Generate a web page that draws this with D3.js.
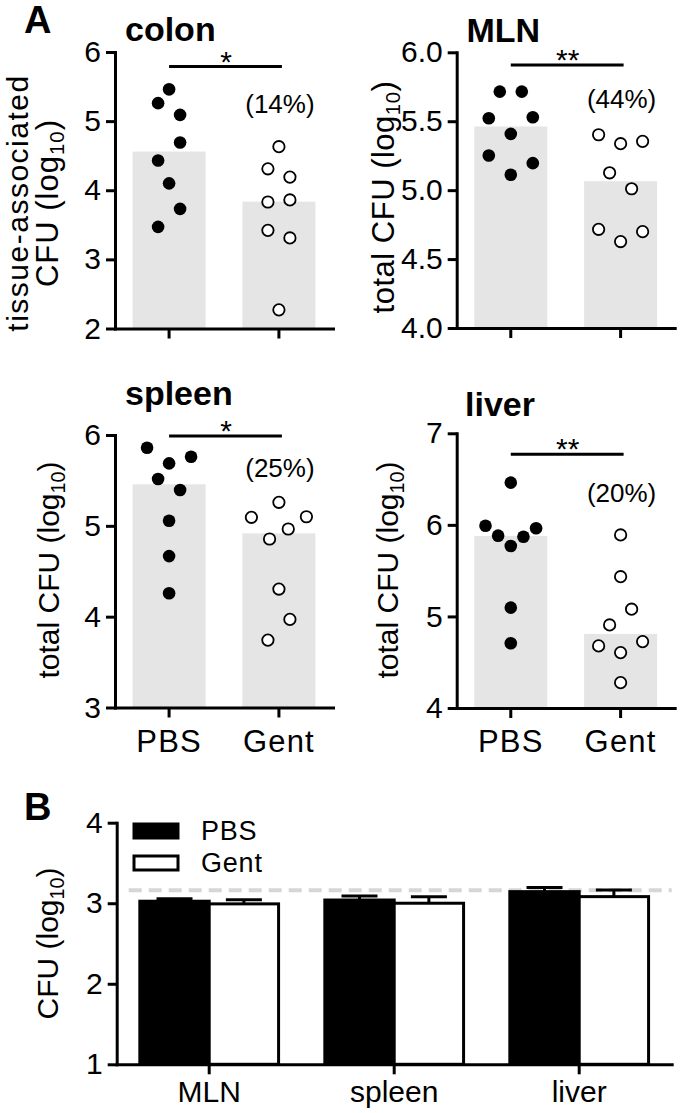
<!DOCTYPE html>
<html>
<head>
<meta charset="utf-8">
<script src="https://cdn.jsdelivr.net/npm/d3@7"></script>
<style>
  html, body { margin: 0; padding: 0; background: #fff; }
  svg text { font-family: "Liberation Sans", Arial, Helvetica, sans-serif; fill: #000; }
</style>
</head>
<body>
<svg id="chart" width="680" height="1113"></svg>
<script>
// ---------------- DATA ----------------
const groups = ["PBS", "Gent"];

// colon (tissue-associated CFU, log10)
const colonPBS  = [5.46, 5.26, 5.09, 4.69, 4.43, 4.10, 3.73, 3.47];
const colonGent = [4.63, 4.31, 4.19, 3.86, 3.83, 3.42, 3.31, 2.27];
const colonBars = [4.56, 3.835];
const colonPBSSlot  = [0, -1, 1, 1, -1, 0, 1, -1];
const colonGentSlot = [0, -1, 1, 1, -1, -1, 1, 0];

// MLN (total CFU, log10)
const mlnPBS  = [5.715, 5.715, 5.522, 5.529, 5.408, 5.251, 5.196, 5.112];
const mlnGent = [5.402, 5.337, 5.354, 5.126, 5.010, 4.716, 4.627, 4.699];
const mlnBars = [5.462, 5.065];
const mlnPBSSlot  = [-1, 1, -2, 2, 0, -2, 2, 0];
const mlnGentSlot = [-2, 0, 2, -1, 1, -2, 0, 2];

// spleen (total CFU, log10)
const spleenPBS  = [5.860, 5.688, 5.761, 5.515, 5.394, 5.056, 4.667, 4.257];
const spleenGent = [5.259, 5.094, 5.100, 4.965, 4.855, 4.304, 3.970, 3.742];
const spleenBars = [5.457, 4.917];
const spleenPBSSlot  = [-2, 0, 2, -1, 1, 0, 0, 0];
const spleenGentSlot = [0, -2.5, 2.5, 0.85, -0.85, 0, 1, -1];

// liver (total CFU, log10)
const liverPBS  = [6.461, 5.991, 5.882, 5.770, 5.871, 5.963, 5.096, 4.707];
const liverGent = [5.890, 5.434, 5.079, 4.907, 4.725, 4.678, 4.605, 4.277];
const liverBars = [5.879, 4.809];
const liverPBSSlot  = [0, -2.3, -1.15, 0, 1.15, 2.3, 0, 0];
const liverGentSlot = [0, 0, 1, -1, 2, -2, 0, 0];

const percentLabels = ["(14%)", "(44%)", "(25%)", "(20%)"];
const starLabels = ["*", "**", "*", "**"];
const panelTitles = ["colon", "MLN", "spleen", "liver"];
const colonTicks = [2, 3, 4, 5, 6];
const mlnTicks = [4.0, 4.5, 5.0, 5.5, 6.0];
const spleenTicks = [3, 4, 5, 6];
const liverTicks = [4, 5, 6, 7];

// Panel B
const bCategories = ["MLN", "spleen", "liver"];
const bPBSMean = [3.025, 3.04, 3.144];
const bPBSErr  = [0.032, 0.05, 0.05];
const bGentMean = [2.992, 3.0, 3.082];
const bGentErr  = [0.05, 0.082, 0.083];
const bTicks = [1, 2, 3, 4];
const detectionLimit = 3.16;

// ---------------- DRAW ----------------
const svg = d3.select("#chart");
const FONT_TICK = 30, FONT_LABEL = 30;

function styleAxis(g) {
  g.selectAll("path.domain").attr("stroke", "#000").attr("stroke-width", 3).attr("stroke-linecap", "square");
  g.selectAll(".tick line").attr("stroke", "#000").attr("stroke-width", 3);
  g.selectAll(".tick text").attr("font-size", FONT_TICK).attr("fill", "#000");
}

const panels = [
  { title: panelTitles[0], pbs: colonPBS, gent: colonGent, bars: colonBars, pbsSlot: colonPBSSlot, gentSlot: colonGentSlot,
    ticks: colonTicks, fmt: d3.format("d"), x0: 115, yTop: 52, yBot: 328.5,
    ylabel: [["tissue-associated", null], ["CFU (log", "10", ")"]], ylabX: [28, 58], ylabY: 203,
    ylabFont: [30, 31], ylabSpacing: [1.5, 1],
    titleX: 125, titleY: 41, pct: percentLabels[0], pctY: 113, star: starLabels[0], sigY: 66.5, xlabels: false },
  { title: panelTitles[1], pbs: mlnPBS, gent: mlnGent, bars: mlnBars, pbsSlot: mlnPBSSlot, gentSlot: mlnGentSlot,
    ticks: mlnTicks, fmt: d3.format(".1f"), x0: 456.7, yTop: 52.3, yBot: 328,
    ylabel: [["total CFU (log", "10", ")"]], ylabX: [394], ylabY: 197, ylabFont: [31], ylabSpacing: [0.5],
    titleX: 466.5, titleY: 42, pct: percentLabels[1], pctY: 108, star: starLabels[1], sigY: 65, xlabels: false },
  { title: panelTitles[2], pbs: spleenPBS, gent: spleenGent, bars: spleenBars, pbsSlot: spleenPBSSlot, gentSlot: spleenGentSlot,
    ticks: spleenTicks, fmt: d3.format("d"), x0: 115, yTop: 435, yBot: 707.5,
    ylabel: [["total CFU (log", "10", ")"]], ylabX: [59], ylabY: 570, ylabFont: [30], ylabSpacing: [0],
    titleX: 125, titleY: 405, pct: percentLabels[2], pctY: 477, star: starLabels[2], sigY: 436, xlabels: true },
  { title: panelTitles[3], pbs: liverPBS, gent: liverGent, bars: liverBars, pbsSlot: liverPBSSlot, gentSlot: liverGentSlot,
    ticks: liverTicks, fmt: d3.format("d"), x0: 456.7, yTop: 433.3, yBot: 708,
    ylabel: [["total CFU (log", "10", ")"]], ylabX: [398], ylabY: 570, ylabFont: [30], ylabSpacing: [0],
    titleX: 465, titleY: 416, pct: percentLabels[3], pctY: 502, star: starLabels[3], sigY: 454.3, xlabels: true }
];

const SLOT = 11;

panels.forEach(p => {
  const g = svg.append("g");
  const x = d3.scaleBand().domain(groups).range([p.x0, p.x0 + 218]).paddingInner(0.335).paddingOuter(0.16);
  const y = d3.scaleLinear().domain([p.ticks[0], p.ticks[p.ticks.length - 1]]).range([p.yBot, p.yTop]);

  // bars
  g.selectAll("rect.bar").data(groups).join("rect")
    .attr("x", d => x(d)).attr("width", x.bandwidth())
    .attr("y", (d, i) => y(p.bars[i])).attr("height", (d, i) => p.yBot - y(p.bars[i]))
    .attr("fill", "#e5e5e5");

  // axes
  const ya = g.append("g").attr("transform", `translate(${p.x0},0)`)
    .call(d3.axisLeft(y).tickValues(p.ticks).tickFormat(p.fmt).tickSize(9).tickSizeOuter(0).tickPadding(5));
  styleAxis(ya);
  const xa = g.append("g").attr("transform", `translate(0,${p.yBot})`)
    .call(d3.axisBottom(x).tickSize(10).tickSizeOuter(0));
  styleAxis(xa);
  xa.selectAll(".tick text").attr("font-size", 31).attr("letter-spacing", 1.2)
    .attr("y", 44).attr("dy", null);
  if (!p.xlabels) xa.selectAll(".tick text").remove();

  // dots
  const cx = d => x(d) + x.bandwidth() / 2;
  g.selectAll("circle.pbs").data(p.pbs).join("circle")
    .attr("cx", (d, i) => cx("PBS") + p.pbsSlot[i] * SLOT).attr("cy", d => y(d))
    .attr("r", 6.3).attr("fill", "#000");
  g.selectAll("circle.gent").data(p.gent).join("circle")
    .attr("cx", (d, i) => cx("Gent") + p.gentSlot[i] * SLOT).attr("cy", d => y(d))
    .attr("r", 5.7).attr("fill", "#fff").attr("stroke", "#000").attr("stroke-width", 1.8);

  // significance line
  g.append("line").attr("x1", cx("PBS")).attr("x2", cx("Gent") + 3)
    .attr("y1", p.sigY).attr("y2", p.sigY).attr("stroke", "#000").attr("stroke-width", 3);
  g.append("text").attr("x", (cx("PBS") + cx("Gent")) / 2 + 2).attr("y", p.sigY + 5)
    .attr("text-anchor", "middle").attr("font-size", 30).text(p.star);
  g.append("text").attr("x", cx("Gent") + 1).attr("y", p.pctY)
    .attr("text-anchor", "middle").attr("font-size", 26).text(p.pct);

  // title
  g.append("text").attr("x", p.titleX).attr("y", p.titleY)
    .attr("font-size", 34).attr("font-weight", "bold").text(p.title);

  // y label
  p.ylabel.forEach((line, li) => {
    const fs = p.ylabFont[li];
    const t = g.append("text").attr("transform", `translate(${p.ylabX[li]},${p.ylabY}) rotate(-90)`)
      .attr("text-anchor", "middle").attr("font-size", fs).attr("letter-spacing", p.ylabSpacing[li]);
    t.append("tspan").text(line[0]);
    if (line[1]) {
      t.append("tspan").attr("font-size", fs * 0.66).attr("dy", "0.3em").text(line[1]);
      t.append("tspan").attr("dy", "-0.2em").text(line[2]);
    }
  });
});

// panel letters
svg.append("text").attr("x", 24).attr("y", 33).attr("font-size", 38).attr("font-weight", "bold").text("A");
svg.append("text").attr("x", 24).attr("y", 820).attr("font-size", 38).attr("font-weight", "bold").text("B");

// ---------------- PANEL B ----------------
(function () {
  const x0 = 116.7, x1 = 671.7, yTop = 822.7, yBot = 1064.3;
  const g = svg.append("g");
  const x = d3.scaleBand().domain(bCategories).range([x0, x1]).paddingInner(0.25).paddingOuter(0.125);
  const xi = d3.scaleBand().domain(groups).range([0, x.bandwidth()]);
  const y = d3.scaleLinear().domain([bTicks[0], bTicks[bTicks.length - 1]]).range([yBot, yTop]);

  // detection limit
  g.append("line").attr("x1", x0 + 12).attr("x2", x1).attr("y1", y(detectionLimit)).attr("y2", y(detectionLimit))
    .attr("stroke", "#d6d6d6").attr("stroke-width", 4).attr("stroke-dasharray", "13,7");

  const rows = bCategories.map((c, i) => ({ c, vals: [
    { grp: "PBS", m: bPBSMean[i], e: bPBSErr[i] },
    { grp: "Gent", m: bGentMean[i], e: bGentErr[i] } ] }));

  const cg = g.selectAll("g.cat").data(rows).join("g").attr("transform", d => `translate(${x(d.c)},0)`);
  const bars = cg.selectAll("g.b").data(d => d.vals).join("g");
  // error bars
  bars.append("line").attr("x1", d => xi(d.grp) + xi.bandwidth() / 2).attr("x2", d => xi(d.grp) + xi.bandwidth() / 2)
    .attr("y1", d => y(d.m)).attr("y2", d => y(d.m + d.e)).attr("stroke", "#000").attr("stroke-width", 3);
  bars.append("line").attr("x1", d => xi(d.grp) + xi.bandwidth() / 2 - 18).attr("x2", d => xi(d.grp) + xi.bandwidth() / 2 + 18)
    .attr("y1", d => y(d.m + d.e)).attr("y2", d => y(d.m + d.e)).attr("stroke", "#000").attr("stroke-width", 3);
  bars.append("rect").attr("x", d => xi(d.grp)).attr("width", xi.bandwidth())
    .attr("y", d => y(d.m)).attr("height", d => yBot - y(d.m))
    .attr("fill", d => d.grp === "PBS" ? "#000" : "#fff").attr("stroke", "#000").attr("stroke-width", 3);

  const ya = g.append("g").attr("transform", `translate(${x0},0)`)
    .call(d3.axisLeft(y).tickValues(bTicks).tickFormat(d3.format("d")).tickSize(9).tickSizeOuter(0).tickPadding(5));
  styleAxis(ya);
  const xa = g.append("g").attr("transform", `translate(0,${yBot})`)
    .call(d3.axisBottom(x).tickSize(10).tickSizeOuter(0));
  styleAxis(xa);
  xa.selectAll(".tick text").attr("font-size", 30).attr("y", 38).attr("dy", null);

  // y label
  const t = g.append("text").attr("transform", `translate(58,${(yTop + yBot) / 2})rotate(-90)`)
    .attr("text-anchor", "middle").attr("font-size", FONT_LABEL);
  t.append("tspan").text("CFU (log");
  t.append("tspan").attr("font-size", FONT_LABEL * 0.66).attr("dy", "0.3em").text("10");
  t.append("tspan").attr("dy", "-0.2em").text(")");

  // legend
  const lg = g.append("g");
  groups.forEach((grp, i) => {
    lg.append("rect").attr("x", 134).attr("y", 824 + i * 32).attr("width", 44).attr("height", 14)
      .attr("fill", grp === "PBS" ? "#000" : "#fff").attr("stroke", "#000").attr("stroke-width", 3);
    lg.append("text").attr("x", 201).attr("y", 840 + i * 32).attr("font-size", 27).attr("letter-spacing", 0.8).text(grp);
  });
})();
</script>
</body>
</html>
